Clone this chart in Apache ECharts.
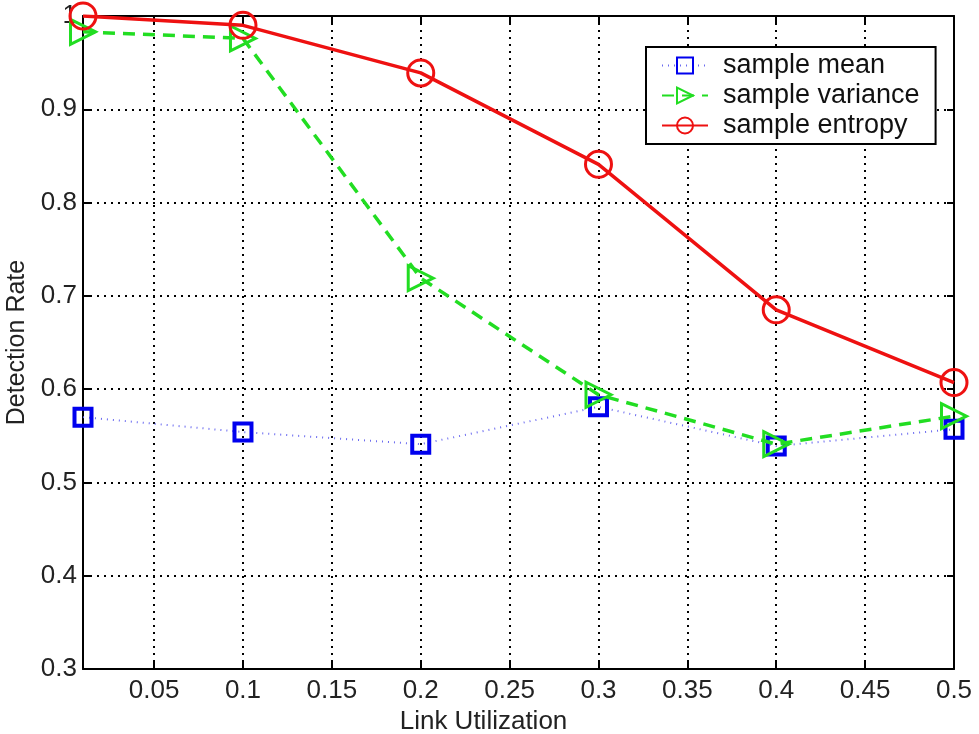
<!DOCTYPE html>
<html>
<head>
<meta charset="utf-8">
<title>Detection Rate vs Link Utilization</title>
<script src="https://cdn.jsdelivr.net/npm/echarts@6/dist/echarts.min.js"></script>
<style>
  html, body { margin: 0; padding: 0; background: #fff; }
  #chart { width: 979px; height: 734px; }
</style>
</head>
<body>
<div id="chart"></div>
<script>
// values
var utilization = [0.01, 0.1, 0.2, 0.3, 0.4, 0.5];
var sampleMean = [0.570, 0.554, 0.541, 0.581, 0.539, 0.557];
var sampleVariance = [0.983, 0.976, 0.719, 0.594, 0.541, 0.571];
var sampleEntropy = [1.000, 0.990, 0.939, 0.841, 0.685, 0.607];
var xTicks = [0.05, 0.1, 0.15, 0.2, 0.25, 0.3, 0.35, 0.4, 0.45, 0.5];

function pairs(ys) {
  return utilization.map(function (x, i) { return [x, ys[i]]; });
}

var font = 'Liberation Sans, Arial, sans-serif';
var frame = { show: true, onZero: false, lineStyle: { color: '#000', width: 2 } };
var tickIn = { show: true, inside: true, length: 7, lineStyle: { color: '#000', width: 2 } };
var gridDots = { show: true, lineStyle: { color: '#000', width: 2, type: [2, 5] } };

var chart = echarts.init(document.getElementById('chart'));
chart.setOption({
  animation: false,
  backgroundColor: '#fff',
  grid: { left: 83, right: 25, top: 16, bottom: 65, containLabel: false, outerBoundsMode: 'none' },
  legend: {
    orient: 'vertical',
    left: 646, top: 47,
    padding: [5, 16, 5, 15],
    itemGap: 3,
    itemWidth: 46, itemHeight: 20,
    backgroundColor: '#fff',
    borderColor: '#000', borderWidth: 2, borderRadius: 0,
    textStyle: { fontFamily: font, fontSize: 27, color: '#111', padding: [0, 0, 0, 10] },
    data: ['sample mean', 'sample variance', 'sample entropy']
  },
  xAxis: [{
    type: 'value', min: 0.01, max: 0.5,
    name: 'Link Utilization', nameLocation: 'middle', nameGap: 38,
    nameTextStyle: { fontFamily: font, fontSize: 26, color: '#222', padding: [0, 70, 0, 0] },
    axisLine: frame,
    axisTick: Object.assign({ customValues: xTicks }, tickIn),
    axisLabel: { customValues: xTicks, fontFamily: font, fontSize: 26, color: '#222', margin: 9 },
    splitLine: gridDots
  }, {
    type: 'value', min: 0.01, max: 0.5, position: 'top',
    axisLine: frame,
    axisTick: Object.assign({ customValues: xTicks }, tickIn),
    axisLabel: { show: false },
    splitLine: { show: false }
  }],
  yAxis: [{
    type: 'value', min: 0.3, max: 1, interval: 0.1,
    name: 'Detection Rate', nameLocation: 'middle', nameGap: 41,
    nameTextStyle: { fontFamily: font, fontSize: 25, color: '#222' },
    axisLine: frame,
    axisTick: tickIn,
    axisLabel: { fontFamily: font, fontSize: 26, color: '#222', margin: 6 },
    splitLine: gridDots
  }, {
    type: 'value', min: 0.3, max: 1, interval: 0.1, position: 'right',
    axisLine: frame,
    axisTick: tickIn,
    axisLabel: { show: false },
    splitLine: { show: false }
  }],
  series: [{
    name: 'sample mean', type: 'line', data: pairs(sampleMean),
    symbol: 'rect', symbolSize: 17,
    itemStyle: { color: 'rgba(255,255,255,0)', borderColor: '#0000ee', borderWidth: 4 },
    lineStyle: { color: '#6a6af0', width: 2, type: [1, 5] },
    z: 2
  }, {
    name: 'sample variance', type: 'line', data: pairs(sampleVariance),
    symbol: 'triangle', symbolSize: 25, symbolRotate: -90,
    itemStyle: { color: 'rgba(255,255,255,0)', borderColor: '#22dd22', borderWidth: 3 },
    lineStyle: { color: '#22dd22', width: 3.5, type: [12, 8] },
    z: 3
  }, {
    name: 'sample entropy', type: 'line', data: pairs(sampleEntropy),
    symbol: 'circle', symbolSize: 26,
    itemStyle: { color: 'rgba(255,255,255,0)', borderColor: '#ee1111', borderWidth: 3 },
    lineStyle: { color: '#ee1111', width: 3.5 },
    z: 4
  }]
});
</script>
</body>
</html>
